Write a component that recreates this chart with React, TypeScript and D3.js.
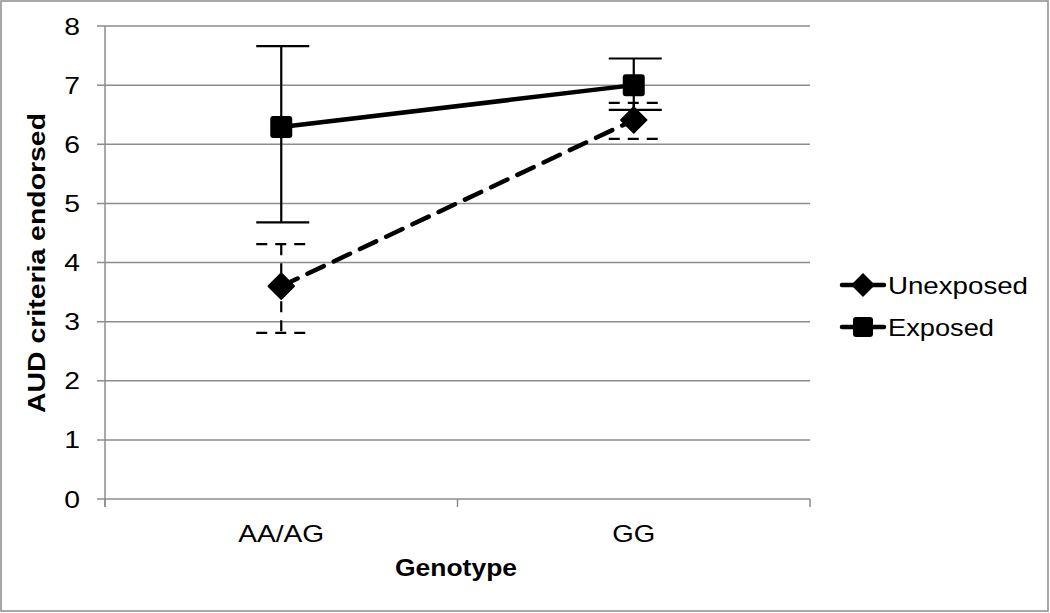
import * as d3 from "d3";

const categories = ["AA/AG", "GG"];
const seriesNames = ["Unexposed", "Exposed"];
const unexposedMean = [3.6, 6.41];
const unexposedHigh = [4.31, 6.7];
const unexposedLow = [2.81, 6.09];
const exposedMean = [6.29, 7.0];
const exposedHigh = [7.66, 7.45];
const exposedLow = [4.68, 6.58];
const yTicks = [0, 1, 2, 3, 4, 5, 6, 7, 8];

const W = 1050;
const H = 613;
const left = 105;
const right = 810;
const top = 26;
const bottom = 499;
const font = "'Liberation Sans', Arial, sans-serif";
// the reference text is drawn a bit wider than the plain font
const stretch = 1.18;

export default function App() {
  const x = d3.scaleBand<string>().domain(categories).range([left, right]);
  const y = d3.scaleLinear().domain([0, 8]).range([bottom, top]);
  const cx = (c: string) => (x(c) ?? 0) + x.bandwidth() / 2;
  const line = d3
    .line<number>()
    .x((_, i) => cx(categories[i]))
    .y((d) => y(d));

  const series = [
    { name: seriesNames[0], mean: unexposedMean, hi: unexposedHigh, lo: unexposedLow, dash: "18 11", errDash: "11 8", marker: "diamond", lw: 140 },
    { name: seriesNames[1], mean: exposedMean, hi: exposedHigh, lo: exposedLow, dash: undefined, errDash: undefined, marker: "square", lw: 106 },
  ];
  const catWidth: Record<string, number> = { "AA/AG": 86, GG: 43 };

  const marker = (kind: string, mx: number, my: number, key: string) =>
    kind === "square" ? (
      <rect key={key} x={mx - 11} y={my - 11} width={22} height={22} rx={3} fill="#000" />
    ) : (
      <path key={key} d={`M${mx},${my - 13}L${mx + 13},${my}L${mx},${my + 13}L${mx - 13},${my}Z`} fill="#000" strokeLinejoin="round" stroke="#000" strokeWidth={1.5} />
    );

  return (
    <svg width={W} height={H} style={{ position: "absolute", left: 0, top: 0 }} fontFamily={font}>
      <rect x={1} y={1} width={W - 3} height={H - 3} fill="#fff" stroke="#8c8c8c" strokeWidth={1.5} />
      {yTicks.map((t) => (
        <g key={t}>
          <line x1={97} x2={right} y1={y(t)} y2={y(t)} stroke="#8c8c8c" strokeWidth={1.5} />
          <text transform={`translate(80,${y(t) + 8.5}) scale(${stretch},1)`} textAnchor="end" fontSize={24}>
            {t}
          </text>
        </g>
      ))}
      <line x1={left} x2={left} y1={top} y2={bottom + 8} stroke="#8c8c8c" strokeWidth={1.5} />
      {[left, left + x.bandwidth(), right].map((tx) => (
        <line key={tx} x1={tx} x2={tx} y1={bottom} y2={bottom + 8} stroke="#8c8c8c" strokeWidth={1.5} />
      ))}
      {categories.map((c) => (
        <text key={c} x={cx(c)} y={542} textAnchor="middle" fontSize={24} textLength={catWidth[c]} lengthAdjust="spacingAndGlyphs">
          {c}
        </text>
      ))}
      <text x={456} y={576} textAnchor="middle" fontSize={24} fontWeight="bold" textLength={122} lengthAdjust="spacingAndGlyphs">
        Genotype
      </text>
      <text transform={`translate(45,263) rotate(-90)`} textAnchor="middle" fontSize={24} fontWeight="bold" textLength={300} lengthAdjust="spacingAndGlyphs">
        AUD criteria endorsed
      </text>

      {series.map((s) =>
        categories.map((c, i) => {
          const px = cx(c);
          return (
            <g key={s.name + c} stroke="#000" strokeWidth={2.2} strokeDasharray={s.errDash}>
              <line x1={px} x2={px} y1={y(s.hi[i])} y2={y(s.lo[i])} />
              <line x1={px - 25} x2={px + 28} y1={y(s.hi[i])} y2={y(s.hi[i])} />
              <line x1={px - 25} x2={px + 28} y1={y(s.lo[i])} y2={y(s.lo[i])} />
            </g>
          );
        })
      )}
      {series.map((s) => (
        <g key={s.name}>
          <path d={line(s.mean) ?? ""} fill="none" stroke="#000" strokeWidth={4.5} strokeDasharray={s.dash} strokeLinecap="round" />
          {s.mean.map((v, i) => marker(s.marker, cx(categories[i]), y(v), s.name + i))}
        </g>
      ))}

      {series.map((s, i) => {
        const ly = 285 + i * 42;
        return (
          <g key={"leg" + s.name}>
            <line x1={842} x2={884} y1={ly} y2={ly} stroke="#000" strokeWidth={4.5} strokeLinecap="round" />
            {s.marker === "square" ? (
              <rect x={853} y={ly - 10} width={20} height={20} rx={3} fill="#000" />
            ) : (
              <path d={`M863,${ly - 12}L875,${ly}L863,${ly + 12}L851,${ly}Z`} fill="#000" />
            )}
            <text x={888} y={ly + 8.5} fontSize={24} textLength={s.lw} lengthAdjust="spacingAndGlyphs">
              {s.name}
            </text>
          </g>
        );
      })}
    </svg>
  );
}
